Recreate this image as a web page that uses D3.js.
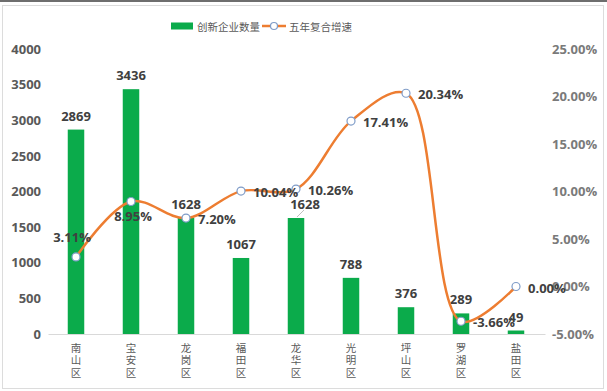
<!DOCTYPE html>
<html>
<head>
<meta charset="utf-8">
<script src="https://cdn.jsdelivr.net/npm/d3@7"></script>
<style>
  body { margin: 0; background: #fff; }
  svg { display: block; }
</style>
</head>
<body>
<div id="chart"></div>
<script>
// districts, count of innovative firms, 5-year compound growth (%)
const districts = ["南山区", "宝安区", "龙岗区", "福田区", "龙华区", "光明区", "坪山区", "罗湖区", "盐田区"];
const firmCounts = [2869, 3436, 1628, 1067, 1628, 788, 376, 289, 49];
const growthRates = [3.11, 8.95, 7.20, 10.04, 10.26, 17.41, 20.34, -3.66, 0.00];
const leftTicks = [0, 500, 1000, 1500, 2000, 2500, 3000, 3500, 4000];
const rightTicks = [-5, 0, 5, 10, 15, 20, 25];
const legendNames = ["创新企业数量", "五年复合增速"];

const width = 607;
const height = 391;
const numFont = "'Open Sans', 'DejaVu Sans', sans-serif";
const cjkFont = "'Noto Sans CJK SC', sans-serif";

const svg = d3.select("#chart")
	.append("svg")
		.attr("width", width)
		.attr("height", height);

// frame
svg.append("rect")
	.attr("x", 0).attr("y", 0)
	.attr("width", width).attr("height", 2)
	.attr("fill", "#6e6e6e");
svg.append("rect")
	.attr("x", 2.5).attr("y", 5.5)
	.attr("width", 601).attr("height", 383)
	.attr("fill", "none")
	.attr("stroke", "#dcdcdc");

const plot = { left: 48.5, right: 543.5, top: 49, bottom: 334 };

const x = d3.scaleBand()
	.domain(districts)
	.range([plot.left, plot.right])
	.paddingInner(0.7)
	.paddingOuter(0.35);

const yLeft = d3.scaleLinear()
	.domain([0, 4000])
	.range([plot.bottom, plot.top]);

const yRight = d3.scaleLinear()
	.domain([-5, 25])
	.range([plot.bottom, plot.top]);

const cx = d => x(d) + x.bandwidth() / 2;

// left axis
const leftAxis = svg.append("g")
	.attr("transform", `translate(41,0)`)
	.call(d3.axisLeft(yLeft).tickValues(leftTicks).tickSize(0).tickPadding(0)
		.tickFormat(d3.format("d")));
leftAxis.select(".domain").remove();
leftAxis.selectAll("text")
	.attr("font-family", numFont)
	.attr("font-size", 13)
	.attr("font-weight", "bold")
	.attr("fill", "#595959");

// right axis (labels left aligned)
const rightAxis = svg.append("g")
	.attr("transform", `translate(552,0)`)
	.call(d3.axisRight(yRight).tickValues(rightTicks).tickSize(0).tickPadding(0)
		.tickFormat(d => d.toFixed(2) + "%"));
rightAxis.select(".domain").remove();
rightAxis.selectAll("text")
	.attr("font-family", numFont)
	.attr("font-size", 13)
	.attr("font-weight", "bold")
	.attr("fill", "#7a7a7a");

// baseline
svg.append("line")
	.attr("x1", plot.left).attr("x2", plot.right + 2)
	.attr("y1", plot.bottom + 0.5).attr("y2", plot.bottom + 0.5)
	.attr("stroke", "#d9d9d9");

// category labels, one char per line
const catChars = districts.flatMap(d => Array.from(d).map((ch, i) => ({ d, ch, i })));
svg.append("g")
	.selectAll("text")
	.data(catChars)
	.join("text")
		.attr("x", c => cx(c.d))
		.attr("y", c => plot.bottom + 18 + c.i * 12.3)
		.attr("text-anchor", "middle")
		.attr("font-family", "'Liberation Sans', 'Noto Sans CJK SC', sans-serif")
		.attr("font-size", 10.5)
		.attr("fill", "#595959")
		.text(c => c.ch);

// bars
svg.append("g")
	.selectAll("rect")
	.data(districts)
	.join("rect")
		.attr("x", d => x(d))
		.attr("y", (d, i) => yLeft(firmCounts[i]))
		.attr("width", x.bandwidth())
		.attr("height", (d, i) => plot.bottom - yLeft(firmCounts[i]))
		.attr("fill", "#0bab4b");

// bar value labels
const barLabelShift = { "龙华区": 9 };
svg.append("g")
	.selectAll("text")
	.data(districts)
	.join("text")
		.attr("x", d => cx(d) + (barLabelShift[d] || 0))
		.attr("y", (d, i) => yLeft(firmCounts[i]) - 14)
		.attr("dominant-baseline", "central")
		.attr("text-anchor", "middle")
		.attr("font-family", numFont)
		.attr("font-size", 13)
		.attr("font-weight", "bold")
		.attr("fill", "#404040")
		.text((d, i) => firmCounts[i]);

// leader line for the shifted label
districts.forEach((d, i) => {
	if (barLabelShift[d]) {
		const top = yLeft(firmCounts[i]);
		svg.append("line")
			.attr("x1", cx(d) + 1).attr("y1", top - 1)
			.attr("x2", cx(d) + barLabelShift[d] - 1).attr("y2", top - 8)
			.attr("stroke", "#bfbfbf");
	}
});

// growth line
const lineGen = d3.line()
	.x((d, i) => cx(districts[i]))
	.y(d => yRight(d))
	.curve(d3.curveCatmullRom.alpha(0.5));

svg.append("path")
	.datum(growthRates)
	.attr("d", lineGen)
	.attr("fill", "none")
	.attr("stroke", "#ed7d31")
	.attr("stroke-width", 2.5)
	.attr("stroke-linejoin", "round");

svg.append("g")
	.selectAll("circle")
	.data(growthRates)
	.join("circle")
		.attr("cx", (d, i) => cx(districts[i]))
		.attr("cy", d => yRight(d))
		.attr("r", 4)
		.attr("fill", "#fff")
		.attr("stroke", "#7f9cc8")
		.attr("stroke-width", 1.2);

// growth labels
const pctPos = { "南山区": "above", "宝安区": "below" };
svg.append("g")
	.selectAll("text")
	.data(growthRates)
	.join("text")
		.attr("x", (d, i) => {
			const p = pctPos[districts[i]];
			return p ? cx(districts[i]) - (p === "above" ? 4 : -2) : cx(districts[i]) + 12;
		})
		.attr("y", (d, i) => {
			const p = pctPos[districts[i]];
			return yRight(d) + (p === "above" ? -20 : p === "below" ? 15 : 1);
		})
		.attr("text-anchor", (d, i) => pctPos[districts[i]] ? "middle" : "start")
		.attr("dominant-baseline", "central")
		.attr("font-family", numFont)
		.attr("font-size", 13)
		.attr("font-weight", "bold")
		.attr("fill", "#404040")
		.text(d => d.toFixed(2) + "%");

// legend
const legend = svg.append("g").attr("transform", "translate(0,26)");
legend.append("rect")
	.attr("x", 171).attr("y", -3.5)
	.attr("width", 22).attr("height", 7)
	.attr("fill", "#0bab4b");
legend.append("text")
	.attr("x", 197).attr("y", 0)
	.attr("dominant-baseline", "central")
	.attr("font-family", cjkFont)
	.attr("font-size", 10.5)
	.attr("fill", "#595959")
	.text(legendNames[0]);
legend.append("line")
	.attr("x1", 262).attr("x2", 286)
	.attr("y1", 0).attr("y2", 0)
	.attr("stroke", "#ed7d31")
	.attr("stroke-width", 2.5);
legend.append("circle")
	.attr("cx", 274).attr("cy", 0).attr("r", 3.5)
	.attr("fill", "#fff")
	.attr("stroke", "#7f9cc8")
	.attr("stroke-width", 1.2);
legend.append("text")
	.attr("x", 289).attr("y", 0)
	.attr("dominant-baseline", "central")
	.attr("font-family", cjkFont)
	.attr("font-size", 10.5)
	.attr("fill", "#595959")
	.text(legendNames[1]);
</script>
</body>
</html>
